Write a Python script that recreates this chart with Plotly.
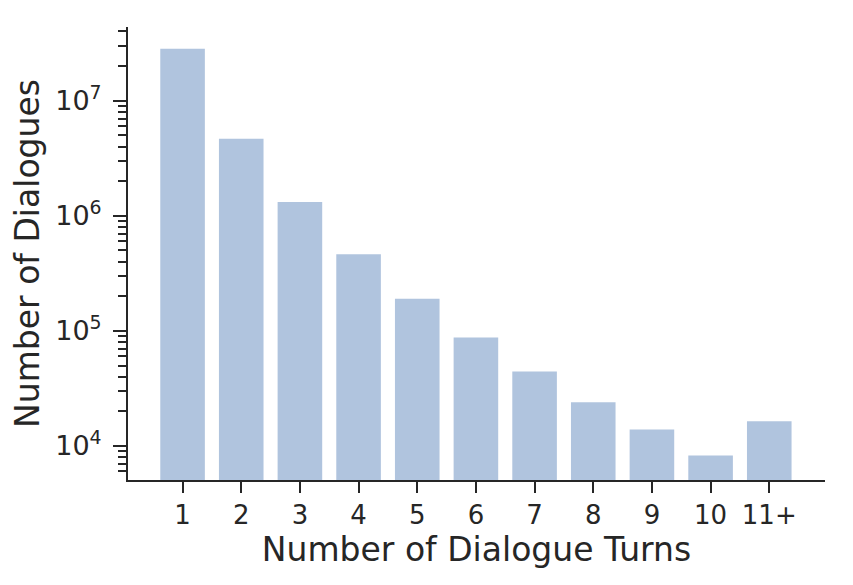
import plotly.graph_objects as go

# dialogue turn buckets and counts
turns = ["1", "2", "3", "4", "5", "6", "7", "8", "9", "10", "11+"]
dialogues = [2.83e7, 4.68e6, 1.32e6, 4.64e5, 1.90e5, 8.75e4,
             4.43e4, 2.40e4, 1.39e4, 8.24e3, 1.64e4]

major_ticks = [1e4, 1e5, 1e6, 1e7]
major_labels = ["10<sup>4</sup>", "10<sup>5</sup>", "10<sup>6</sup>", "10<sup>7</sup>"]
minor_ticks = [m * 10 ** e for e in range(3, 8) for m in range(2, 10)]

ink = "#262626"
font = "DejaVu Sans"

bars = go.Bar(
    x=turns, y=dialogues,
    width=0.76,
    marker=dict(color="#b0c4de", line=dict(width=0)),
)

fig = go.Figure([bars])
# page body adds 8px around the graph, margins account for it
fig.update_layout(
    width=853, height=585,
    margin=dict(l=120, r=36, t=19, b=113),
    paper_bgcolor="white", plot_bgcolor="white",
    showlegend=False,
    font=dict(family=font, color=ink, size=26),
    xaxis=dict(
        type="category",
        range=[-0.93, 10.95],
        automargin=False,
        showline=True, linecolor=ink, linewidth=2,
        ticks="outside", ticklen=11, tickwidth=2, tickcolor=ink,
        tickfont=dict(size=26),
        showgrid=False, zeroline=False,
        title=dict(text="Number of Dialogue Turns", font=dict(size=33), standoff=4),
    ),
    yaxis=dict(
        type="log",
        range=[3.704, 7.641],
        automargin=False,
        showline=True, linecolor=ink, linewidth=2,
        tickmode="array", tickvals=major_ticks, ticktext=major_labels,
        ticks="outside", ticklen=13, tickwidth=2, tickcolor=ink,
        ticklabelstandoff=6,
        tickfont=dict(size=27),
        minor=dict(tickmode="array", tickvals=minor_ticks, ticks="outside",
                   ticklen=8, tickwidth=1.5, tickcolor=ink, showgrid=False),
        showgrid=False, zeroline=False,
        title=dict(text="Number of Dialogues", font=dict(size=33), standoff=6),
    ),
)

fig.write_html("out.html")
